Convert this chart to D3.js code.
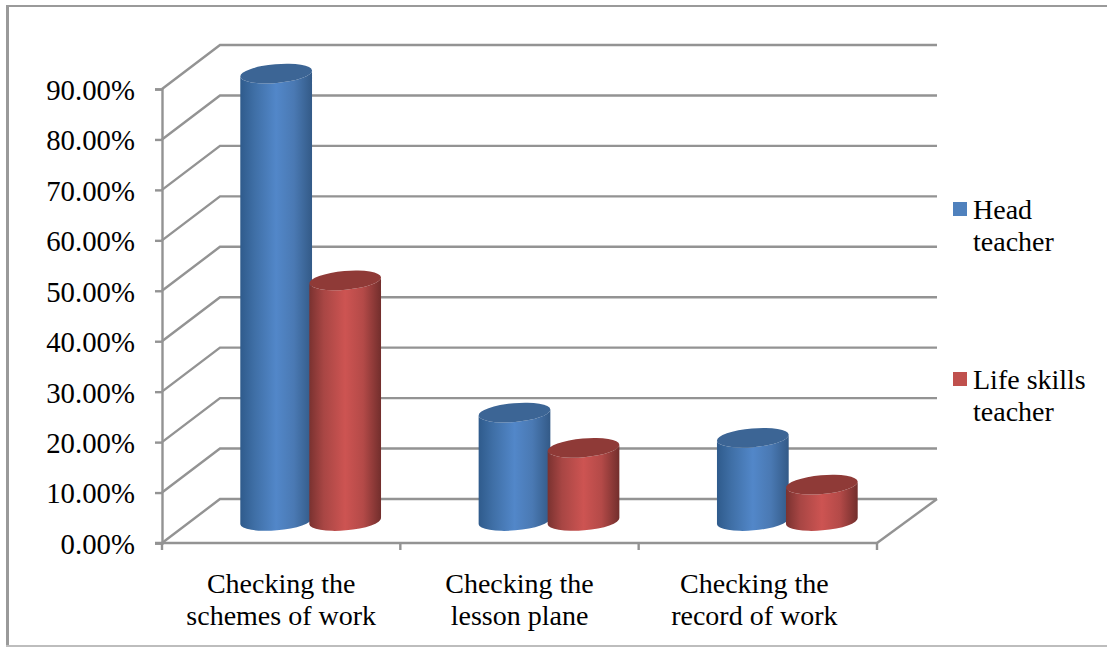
<!DOCTYPE html>
<html>
<head>
<meta charset="utf-8">
<script src="https://cdnjs.cloudflare.com/ajax/libs/d3/7.8.5/d3.min.js"></script>
<style>
  html, body { margin: 0; padding: 0; background: #fff; }
  svg { display: block; }
  text { font-family: "Liberation Serif", "Times New Roman", serif; fill: #000; }
</style>
</head>
<body>
<svg id="chart" width="1107" height="649"></svg>
<script>
const categories = ["Checking the schemes of work", "Checking the lesson plane", "Checking the record of work"];
const categoryLines = [["Checking the", "schemes of work"], ["Checking the", "lesson plane"], ["Checking the", "record of work"]];
const labelNudge = [0, 0, -3.5];
const seriesNames = ["Head teacher", "Life skills teacher"];
const legendLines = [["Head", "teacher"], ["Life skills", "teacher"]];
const headTeacher = [88.7, 21.5, 16.5];
const lifeSkillsTeacher = [47.7, 14.5, 7.2];
const tickValues = [0, 10, 20, 30, 40, 50, 60, 70, 80, 90];

const svg = d3.select("#chart");
const gridColor = "#939393";

// Oblique 3D frame: the back wall is the front plane shifted by (depthX, depthY).
const depthX = 58, depthY = -44;
const x = d3.scaleBand().domain(categories).range([162, 877]);
const y = d3.scaleLinear().domain([0, 90]).range([543, 89]);
const barWidth = 72, barStep = 69;
const tilt = -5 * Math.PI / 180, capRy = 9.4;

const defs = svg.append("defs");
function sideGradient(id, stops) {
  const g = defs.append("linearGradient").attr("id", id);
  stops.forEach(([o, c]) => g.append("stop").attr("offset", o).attr("stop-color", c));
}
sideGradient("sideBlue", [[0, "#2f5b8c"], [0.2, "#3f6fa6"], [0.5, "#5287c9"], [0.75, "#4a79b3"], [1, "#335a87"]]);
sideGradient("sideRed", [[0, "#7a3230"], [0.2, "#a84644"], [0.5, "#cd5452"], [0.75, "#b44a48"], [1, "#722e2c"]]);
const capColors = ["#3c6595", "#8f3a37"];
const fills = ["url(#sideBlue)", "url(#sideRed)"];

// Chart frame
svg.append("rect").attr("x", 6).attr("y", 5).attr("width", 1101).attr("height", 2).attr("fill", "#9a9a9a");
svg.append("rect").attr("x", 6).attr("y", 5).attr("width", 3).attr("height", 642).attr("fill", "#9a9a9a");
svg.append("rect").attr("x", 6).attr("y", 645).attr("width", 1101).attr("height", 2).attr("fill", "#bdbdbd");

// Gridlines: along the back wall and down the side wall
const grid = svg.append("g").attr("fill", "none").attr("stroke", gridColor).attr("stroke-width", 2.4);
grid.selectAll("path.wall").data(tickValues).join("path").attr("class", "wall")
  .attr("d", v => `M${x.range()[0]},${y(v)}L${x.range()[0] + depthX},${y(v) + depthY}H937`);
// Floor front edge and right edge
grid.append("path").attr("d", `M${x.range()[1]},${y(0)}L937,${y(0) + depthY}`);

// Value axis with its tick marks and percentage labels
const yAxis = d3.axisLeft(y).tickValues(tickValues).tickSize(7).tickPadding(20).tickFormat(v => v.toFixed(2) + "%");
const yG = svg.append("g").attr("transform", `translate(${x.range()[0]},0)`).call(yAxis);
yG.select(".domain").attr("stroke", gridColor).attr("stroke-width", 2.4);
yG.selectAll(".tick line").attr("stroke", gridColor).attr("stroke-width", 2.4);
yG.selectAll(".tick text").style("font-family", '"Liberation Serif", serif').style("font-size", "28.8px").attr("fill", "#000").attr("dy", "0.36em");

// Category axis with ticks at the band boundaries
const xTicks = [x.range()[0], ...categories.map(c => x(c) + x.bandwidth())];
grid.append("path").attr("d", `M${x.range()[0] - 7},${y(0)}H${x.range()[1]}`);
grid.selectAll("path.xtick").data(xTicks).join("path").attr("class", "xtick")
  .attr("d", d => `M${d},${y(0)}v7`);

svg.append("g").selectAll("text").data(categories).join("text")
  .attr("text-anchor", "middle")
  .style("font-size", "28px")
  .attr("transform", (c, i) => `translate(${x(c) + x.bandwidth() / 2 + labelNudge[i]},593)`)
  .selectAll("tspan").data((c, i) => categoryLines[i]).join("tspan")
  .attr("x", 0).attr("y", (d, i) => i * 32).text(d => d);

// Cylinders, drawn at mid-depth of the floor
function cylinder(g, cat, value, s) {
  const cx = x(cat) + x.bandwidth() / 2 + depthX / 2 + 0.5 + (s - 0.5) * barStep;
  const base = y(0) + depthY / 2, top = y(value) + depthY / 2;
  const a = barWidth / 2;
  const dx = a * Math.cos(tilt), dy = a * Math.sin(tilt), deg = tilt * 180 / Math.PI;
  const arcTo = (px, py, sweep) => `A${a},${capRy} ${deg} 0 ${sweep} ${px},${py}`;
  g.append("path")
    .attr("d", `M${cx - dx},${top - dy}L${cx - dx},${base - dy}` + arcTo(cx + dx, base + dy, 0) + `L${cx + dx},${top + dy}` + arcTo(cx - dx, top - dy, 1) + "Z")
    .attr("fill", fills[s]);
  g.append("ellipse")
    .attr("rx", a).attr("ry", capRy)
    .attr("transform", `translate(${cx},${top}) rotate(${deg})`)
    .attr("fill", capColors[s]);
}
const bars = svg.append("g");
categories.forEach((c, i) => {
  cylinder(bars, c, headTeacher[i], 0);
  cylinder(bars, c, lifeSkillsTeacher[i], 1);
});

// Legend
const legendColors = ["#4f81bd", "#c0504d"];
const legendTop = [202, 372];
const legend = svg.append("g").selectAll("g").data(seriesNames).join("g")
  .attr("transform", (d, i) => `translate(953,${legendTop[i]})`);
legend.append("rect").attr("width", 14).attr("height", 14).attr("fill", (d, i) => legendColors[i]);
legend.append("text").style("font-size", "28px")
  .selectAll("tspan").data((d, i) => legendLines[i]).join("tspan")
  .attr("x", 20).attr("y", (d, i) => 17 + i * 32).text(d => d);
</script>
</body>
</html>
